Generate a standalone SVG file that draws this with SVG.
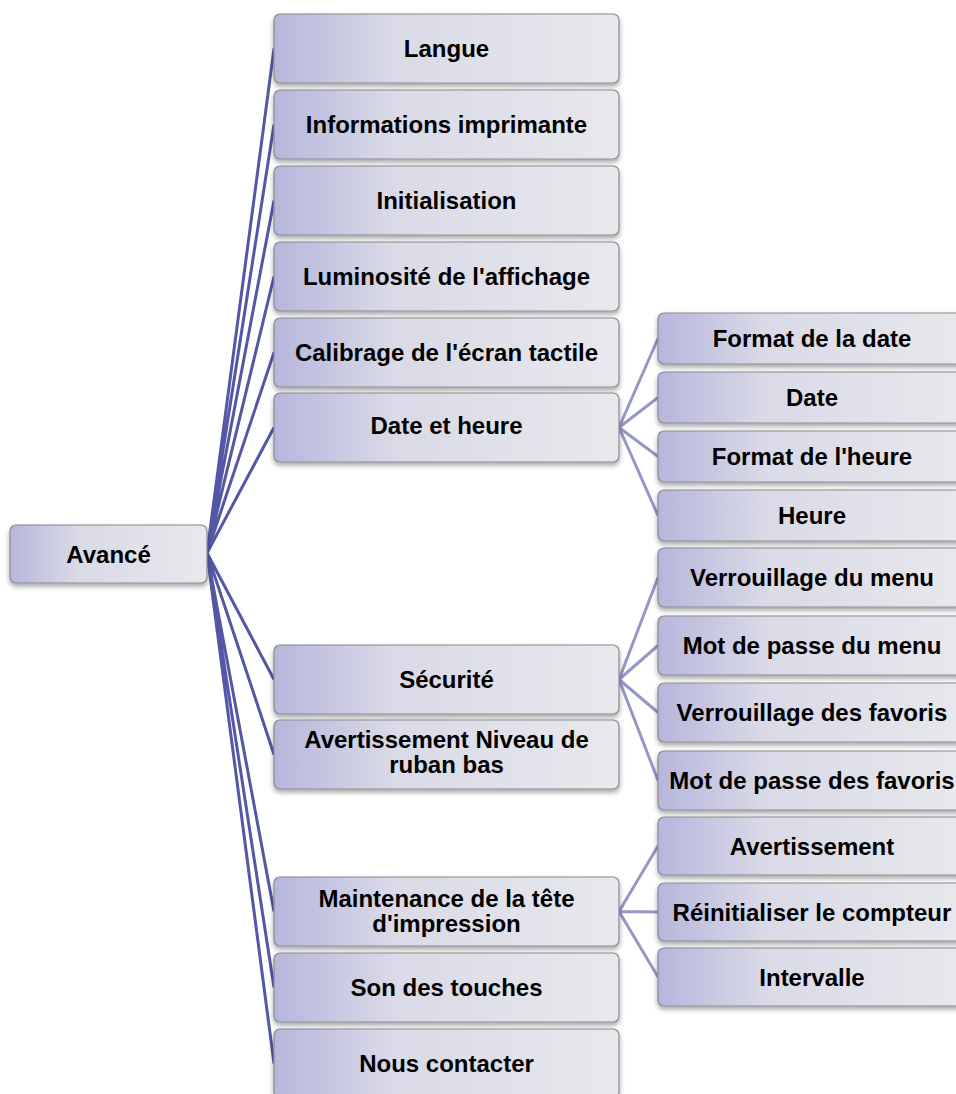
<svg xmlns="http://www.w3.org/2000/svg" width="956" height="1094" viewBox="0 0 956 1094">
<defs>
<linearGradient id="g" x1="0" y1="0" x2="1" y2="0">
<stop offset="0" stop-color="#b6b6dc"/>
<stop offset="0.35" stop-color="#dadae8"/>
<stop offset="1" stop-color="#e8e8ed"/>
</linearGradient>
<filter id="sh" x="-5%" y="-10%" width="110%" height="130%">
<feDropShadow dx="0" dy="3" stdDeviation="2.5" flood-color="#000" flood-opacity="0.35"/>
</filter>
</defs>
<style>
.b{fill:url(#g);stroke:#8a8a90;stroke-width:1.2;filter:url(#sh)}
.t{font-family:"Liberation Sans",Arial,sans-serif;font-weight:bold;font-size:24px;fill:#000;text-anchor:middle}
.c1{stroke:#5457a6;stroke-width:3;fill:none}
.c2{stroke:#9597c6;stroke-width:3;fill:none}
</style>
<g id="connectors">
<path class="c1" d="M207 553L274 48.5M207 553L274 124.5M207 553L274 200.5M207 553L274 276.5M207 553L274 352.5M207 553L274 427.5M207 553L274 679.5M207 553L274 754.5M207 553L274 911.5M207 553L274 987.5M207 553L274 1063.5"/>
<path class="c2" d="M619 427.5L658 338.5M619 427.5L658 397.5M619 427.5L658 456.5M619 427.5L658 515.5"/>
<path class="c2" d="M619 679.5L658 577.5M619 679.5L658 645.5M619 679.5L658 712.5M619 679.5L658 780.5"/>
<path class="c2" d="M619 911.5L658 846M619 911.5L658 912M619 911.5L658 977"/>
</g>
<g id="avance"><rect class="b" x="10" y="525" width="197" height="58" rx="6"/><text class="t" x="108.5" y="562.6">Avancé</text></g>
<g id="langue"><rect class="b" x="274" y="14" width="345" height="69" rx="6"/><text class="t" x="446.5" y="57.1">Langue</text></g>
<g id="infos"><rect class="b" x="274" y="90" width="345" height="69" rx="6"/><text class="t" x="446.5" y="133.1">Informations imprimante</text></g>
<g id="init"><rect class="b" x="274" y="166" width="345" height="69" rx="6"/><text class="t" x="446.5" y="209.1">Initialisation</text></g>
<g id="lumin"><rect class="b" x="274" y="242" width="345" height="69" rx="6"/><text class="t" x="446.5" y="285.1">Luminosité de l'affichage</text></g>
<g id="calib"><rect class="b" x="274" y="318" width="345" height="69" rx="6"/><text class="t" x="446.5" y="361.1">Calibrage de l'écran tactile</text></g>
<g id="dateheure"><rect class="b" x="274" y="393" width="345" height="69" rx="6"/><text class="t" x="446.5" y="434.1">Date et heure</text></g>
<g id="securite"><rect class="b" x="274" y="645" width="345" height="69" rx="6"/><text class="t" x="446.5" y="688.1">Sécurité</text></g>
<g id="avert"><rect class="b" x="274" y="720" width="345" height="69" rx="6"/><text class="t" x="446.5" y="748"><tspan x="446.5">Avertissement Niveau de</tspan><tspan x="446.5" dy="25">ruban bas</tspan></text></g>
<g id="maint"><rect class="b" x="274" y="877" width="345" height="69" rx="6"/><text class="t" x="446.5" y="907"><tspan x="446.5">Maintenance de la tête</tspan><tspan x="446.5" dy="25">d'impression</tspan></text></g>
<g id="son"><rect class="b" x="274" y="953" width="345" height="69" rx="6"/><text class="t" x="446.5" y="996.1">Son des touches</text></g>
<g id="contact"><rect class="b" x="274" y="1029" width="345" height="69" rx="6"/><text class="t" x="446.5" y="1072.1">Nous contacter</text></g>
<g id="fmtdate"><rect class="b" x="658" y="313" width="310" height="51" rx="6"/><text class="t" x="812" y="347.1">Format de la date</text></g>
<g id="date"><rect class="b" x="658" y="372" width="310" height="51" rx="6"/><text class="t" x="812" y="406.1">Date</text></g>
<g id="fmtheure"><rect class="b" x="658" y="431" width="310" height="51" rx="6"/><text class="t" x="812" y="465.1">Format de l'heure</text></g>
<g id="heure"><rect class="b" x="658" y="490" width="310" height="51" rx="6"/><text class="t" x="812" y="524.1">Heure</text></g>
<g id="verrmenu"><rect class="b" x="658" y="548" width="310" height="59" rx="6"/><text class="t" x="812" y="586.1">Verrouillage du menu</text></g>
<g id="mdpmenu"><rect class="b" x="658" y="616" width="310" height="59" rx="6"/><text class="t" x="812" y="654.1">Mot de passe du menu</text></g>
<g id="verrfav"><rect class="b" x="658" y="683" width="310" height="59" rx="6"/><text class="t" x="812" y="721.1">Verrouillage des favoris</text></g>
<g id="mdpfav"><rect class="b" x="658" y="751" width="310" height="59" rx="6"/><text class="t" x="812" y="789.1">Mot de passe des favoris</text></g>
<g id="avertissement"><rect class="b" x="658" y="817" width="310" height="58" rx="6"/><text class="t" x="812" y="854.6">Avertissement</text></g>
<g id="reinit"><rect class="b" x="658" y="883" width="310" height="58" rx="6"/><text class="t" x="812" y="920.6">Réinitialiser le compteur</text></g>
<g id="intervalle"><rect class="b" x="658" y="948" width="310" height="58" rx="6"/><text class="t" x="812" y="985.6">Intervalle</text></g>
</svg>
